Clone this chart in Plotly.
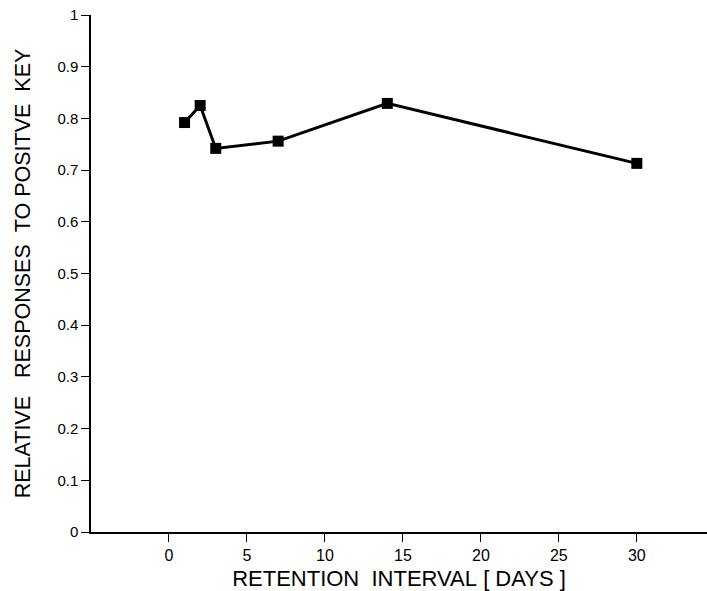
import plotly.graph_objects as go

days = [1, 2, 3, 7, 14, 30]
relative_responses = [0.792, 0.825, 0.742, 0.756, 0.829, 0.713]

x_tick_vals = [0, 5, 10, 15, 20, 25, 30]
y_tick_vals = [0, 0.1, 0.2, 0.3, 0.4, 0.5, 0.6, 0.7, 0.8, 0.9, 1]
y_tick_text = ["0", "0.1", "0.2", "0.3", "0.4", "0.5", "0.6", "0.7", "0.8", "0.9", "1"]

FONT = "Liberation Sans, Arial, sans-serif"
NB = "\u00a0"

fig = go.Figure()
fig.add_trace(go.Scatter(
    x=days, y=relative_responses, mode="lines+markers",
    line=dict(color="black", width=3),
    marker=dict(symbol="square", size=11, color="black"),
    showlegend=False,
))

fig.update_layout(
    width=707, height=591,
    margin=dict(l=91, r=0, t=15, b=58.5),
    plot_bgcolor="white", paper_bgcolor="white",
    font=dict(family=FONT, color="black", size=16),
    xaxis=dict(
        range=[-5, 34.5], tickvals=x_tick_vals, automargin=False,
        ticks="outside", ticklen=8, tickwidth=1.2, tickcolor="black",
        showline=True, linecolor="black", linewidth=1.5,
        showgrid=False, zeroline=False,
        tickfont=dict(size=16),
        title=dict(text="RETENTION" + NB * 2 + "INTERVAL" + NB + "[" + NB + "DAYS" + NB + "]",
                   font=dict(size=22), standoff=11),
    ),
    yaxis=dict(
        range=[0, 1], tickvals=y_tick_vals, ticktext=y_tick_text, automargin=False,
        ticks="outside", ticklen=8, tickwidth=1.2, tickcolor="black",
        showline=True, linecolor="black", linewidth=1.5,
        showgrid=False, zeroline=False,
        tickfont=dict(size=15),
        title=dict(text="RELATIVE" + NB * 3 + "RESPONSES" + NB * 2 + "TO" + NB + "POSITVE" + NB * 2 + "KEY",
                   font=dict(size=21.5), standoff=21),
    ),
)

fig.write_html(
    "out.html",
    config={"displayModeBar": False},
    post_script="document.body.style.margin='0';document.body.style.overflow='hidden';",
)
